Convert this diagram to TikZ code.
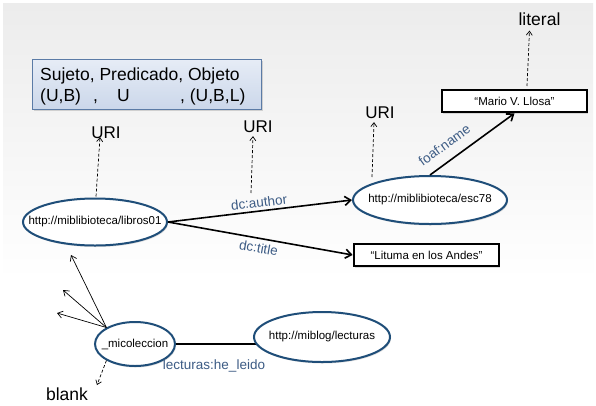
\documentclass[tikz,border=0pt]{standalone}
\usepackage{fontspec}
\setmainfont{Liberation Sans}
\usetikzlibrary{arrows.meta,shapes.geometric,shadows}

\definecolor{ringblue}{HTML}{1F4E79}
\definecolor{labelblue}{HTML}{3D5C85}
\definecolor{boxtop}{HTML}{E6ECF6}
\definecolor{boxbottom}{HTML}{CBD7EA}
\definecolor{boxline}{HTML}{5B7BA6}

\pgfdeclarelayer{back}
\pgfsetlayers{back,main}

\tikzset{
  res/.style={ellipse, draw=ringblue, line width=2pt, fill=white,
    inner sep=0pt,
    drop shadow={opacity=0.25, shadow xshift=1pt, shadow yshift=-1.5pt}},
  lit/.style={rectangle, draw=black, line width=2.6pt, fill=white,
    minimum width=145pt, minimum height=22pt, inner sep=0pt,
    font=\fontsize{11.5}{13}\selectfont,
    drop shadow={opacity=0.25, shadow xshift=1pt, shadow yshift=-1.5pt}},
  nodetext/.style={font=\fontsize{11.5}{13}\selectfont},
  kind/.style={font=\fontsize{17}{20}\selectfont, inner sep=0pt},
  prop/.style={font=\fontsize{13.5}{16}\selectfont, text=labelblue, inner sep=1pt},
  edge/.style={line width=1.6pt, -{Straight Barb[length=6pt,width=9pt]}},
  typeof/.style={densely dashed, line width=0.7pt,
    -{Straight Barb[length=4pt,width=6pt]}},
  thinarrow/.style={line width=0.7pt, -{Straight Barb[length=5pt,width=7pt]}},
}

\begin{document}
\begin{tikzpicture}[x=1pt,y=-1pt]
\useasboundingbox (0,0) rectangle (596,405);

% page background: light grey fading to white
\begin{pgfonlayer}{back}
  \fill[white] (0,0) rectangle (596,405);
  \shade[top color={rgb,255:red,236;green,236;blue,236}, bottom color=white]
    (3,3) rectangle (593,280);
\end{pgfonlayer}

% legend box
\node[draw=boxline, line width=0.8pt, top color=boxtop, bottom color=boxbottom,
  minimum width=229pt, minimum height=50pt, inner sep=0pt,
  drop shadow={opacity=0.3, shadow xshift=1.5pt, shadow yshift=-1.5pt}]
  (legend) at (146.5,84.5) {};
\node[anchor=west, font=\fontsize{17.5}{21}\selectfont, inner sep=0pt,
  align=left] (legendtext) at (40,86) {%
  Sujeto, Predicado, Objeto\\
  \makebox[53pt][l]{(U,B)}\makebox[24pt][l]{,}\makebox[63pt][l]{U}, (U,B,L)};

% resources
\node[res, minimum width=144pt, minimum height=47pt,
  label={[nodetext]center:http://miblibioteca/libros01}] (lib) at (95,222) {};
\node[res, minimum width=154pt, minimum height=48pt,
  label={[nodetext]center:http://miblibioteca/esc78}] (esc) at (430,200) {};
\node[res, minimum width=80pt, minimum height=44pt,
  label={[nodetext]center:\_micoleccion}] (mic) at (135,344) {};
\node[res, minimum width=136pt, minimum height=50pt,
  label={[nodetext]center:http://miblog/lecturas}] (blog) at (322,337) {};

% literals
\node[lit] (lituma) at (426.5,255) {“Lituma en los Andes”};
\node[lit] (mario) at (514.5,101) {“Mario V. Llosa”};

% kinds of term
\node[kind] (uri1) at (106,133) {URI};
\node[kind] (uri2) at (258,127) {URI};
\node[kind] (uri3) at (380,113) {URI};
\node[kind, font=\fontsize{17.5}{20}\selectfont] (literal) at (539.5,19) {literal};
\node[kind, font=\fontsize{17.5}{20}\selectfont] (blank) at (67,394) {blank};

% free ends of the typing arrows
\coordinate (t2) at (251,193);
\coordinate (t3) at (372,177);
\coordinate (t4) at (527,86);
\coordinate (tb) at (97,385);
\coordinate (a1) at (71,255);
\coordinate (a2) at (63,290);
\coordinate (a3) at (57,313);

% typing arrows
\draw[typeof] (lib.north) ++(1,-1) -- ([xshift=-6pt,yshift=2pt]uri1.south);
\draw[typeof] (t2) -- ([xshift=-5pt,yshift=-3pt]uri2.south);
\draw[typeof] (t3) -- ([xshift=-6pt,yshift=-3pt]uri3.south);
\draw[typeof] (t4) -- ([xshift=-10pt,yshift=-5pt]literal.south);
\draw[typeof] (mic.-150) -- (tb);

% properties
\draw[edge] (lib.east) -- (esc.west)
  node[midway, above=2pt, sloped, prop] (pauthor) {dc:author};
\draw[edge] (lib.east) -- (lituma.west)
  node[midway, below=3pt, sloped, prop] (ptitle) {dc:title};
\draw[edge] (esc.north) -- (mario.south)
  node[pos=0.28, above=9pt, sloped, prop] (pname) {foaf:name};

% blank node arrows
\draw[thinarrow] (mic.150) -- (a1);
\draw[thinarrow] (mic.150) -- (a2);
\draw[thinarrow] (mic.150) -- (a3);

% untipped link behind the two ellipses
\begin{pgfonlayer}{back}
  \draw[line width=1.6pt] (mic.center) -- (mic.center -| blog.center);
\end{pgfonlayer}
\node[prop] (pread) at (214,366) {lecturas:he\_leido};
\end{tikzpicture}
\end{document}
